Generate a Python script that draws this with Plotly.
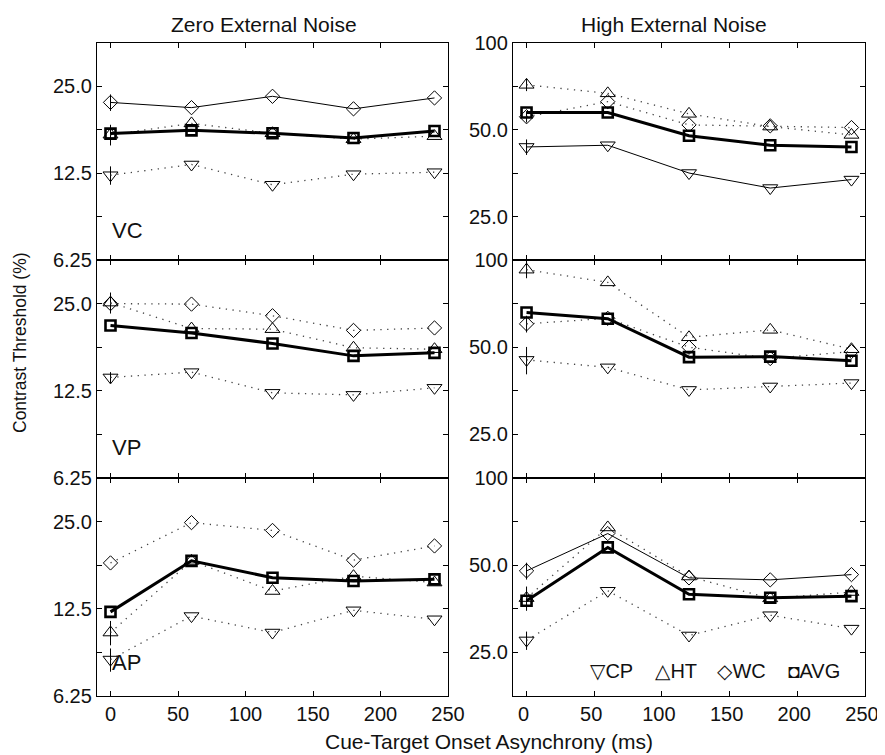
import math
import plotly.graph_objects as go

# ---------------- data ----------------
soa = [0, 60, 120, 180, 240]
x_tick_vals = [0, 50, 100, 150, 200, 250]
x_tick_text = ["0", "50", "100", "150", "200", "250"]

zero_tick_vals = [6.25, 12.5, 25.0]
zero_tick_text = ["6.25", "12.5", "25.0"]
high_tick_vals = [25.0, 50.0, 100.0]
high_tick_text = ["25.0", "50.0", "100"]

column_titles = ["Zero External Noise", "High External Noise"]
row_labels = ["VC", "VP", "AP"]
series_names = ["CP", "HT", "WC", "AVG"]

# Zero external noise
zero_vc_cp = [12.3, 13.4, 11.4, 12.4, 12.6]
zero_vc_ht = [17.0, 18.6, 17.2, 16.4, 16.8]
zero_vc_wc = [22.0, 21.1, 23.1, 20.9, 22.8]
zero_vc_avg = [17.15, 17.6, 17.2, 16.55, 17.5]
zero_vc_err0 = [0.9, 1.4, 1.45]

zero_vp_cp = [13.9, 14.5, 12.3, 12.1, 12.8]
zero_vp_ht = [25.2, 20.5, 20.4, 17.6, 17.4]
zero_vp_wc = [25.0, 24.9, 22.7, 20.2, 20.6]
zero_vp_avg = [21.0, 19.8, 18.2, 16.5, 16.9]
zero_vp_err0 = [0.6, 2.1, 0.0]

zero_ap_cp = [8.35, 11.8, 10.35, 12.35, 11.5]
zero_ap_ht = [10.35, 18.3, 14.4, 16.2, 15.4]
zero_ap_wc = [18.0, 24.8, 23.3, 18.4, 20.6]
zero_ap_avg = [12.2, 18.3, 16.0, 15.6, 15.8]
zero_ap_err0 = [0.77, 1.0, 0.0]

# High external noise
high_vc_cp = [43.6, 44.2, 35.4, 31.4, 33.6]
high_vc_ht = [71.6, 66.9, 56.8, 51.3, 48.0]
high_vc_wc = [55.5, 62.6, 52.0, 51.6, 50.9]
high_vc_avg = [57.4, 57.4, 47.7, 44.2, 43.6]
high_vc_err0 = [2.7, 3.5, 2.5]

high_vp_cp = [45.2, 42.6, 35.6, 36.6, 37.6]
high_vp_ht = [92.6, 83.7, 54.1, 57.4, 49.2]
high_vp_wc = [60.2, 62.9, 50.0, 45.7, 48.3]
high_vp_avg = [65.9, 62.7, 46.2, 46.4, 44.9]
high_vp_err0 = [4.9, 6.1, 4.0]

high_ap_cp = [27.5, 40.8, 28.6, 33.6, 30.2]
high_ap_ht = [38.5, 67.5, 45.7, 38.4, 40.4]
high_ap_wc = [47.8, 64.3, 45.2, 44.5, 46.4]
high_ap_avg = [37.7, 57.6, 39.7, 38.6, 39.1]
high_ap_err0 = [2.0, 3.7, 3.2]

# ---------------- layout geometry ----------------
# The page body has an 8px margin, so the figure is sized to fill the rest
# of the 885x755 window and reference pixel positions are shifted by OFF.
OFF = 8
W, H = 885 - OFF, 755 - OFF
FONT = "Liberation Sans, Arial, Helvetica, DejaVu Sans, sans-serif"


def px(x):
    return (x - OFF) / W


def py(y):
    return 1 - (y - OFF) / H


col_px = [(97, 448), (513, 865)]
row_px = [(43, 260), (260, 478), (478, 696)]

panels = [
    (0, 0, zero_vc_cp, zero_vc_ht, zero_vc_wc, zero_vc_avg, zero_vc_err0, "WC"),
    (0, 1, high_vc_cp, high_vc_ht, high_vc_wc, high_vc_avg, high_vc_err0, "CP"),
    (1, 0, zero_vp_cp, zero_vp_ht, zero_vp_wc, zero_vp_avg, zero_vp_err0, None),
    (1, 1, high_vp_cp, high_vp_ht, high_vp_wc, high_vp_avg, high_vp_err0, None),
    (2, 0, zero_ap_cp, zero_ap_ht, zero_ap_wc, zero_ap_avg, zero_ap_err0, None),
    (2, 1, high_ap_cp, high_ap_ht, high_ap_wc, high_ap_avg, high_ap_err0, "WC"),
]

symbols = {"CP": "triangle-down-open", "HT": "triangle-up-open", "WC": "diamond-open"}
sizes = {"CP": 13, "HT": 13, "WC": 11}

fig = go.Figure()
layout_axes = {}

for idx, (r, c, cp, ht, wc, avg, err0, solid) in enumerate(panels):
    n = idx + 1
    xa = "x" if n == 1 else f"x{n}"
    ya = "y" if n == 1 else f"y{n}"
    subj = {"CP": cp, "HT": ht, "WC": wc}
    order = [s for s in ["CP", "HT", "WC"] if s != solid] + ([solid] if solid else [])
    for s in order:
        e = err0[["CP", "HT", "WC"].index(s)]
        errs = [e] + [0] * (len(soa) - 1)
        is_solid = (s == solid)
        fig.add_trace(go.Scatter(
            x=soa, y=subj[s], xaxis=xa, yaxis=ya, mode="lines+markers",
            name=s, showlegend=False,
            line=dict(color="black" if is_solid else "#444",
                      width=1 if is_solid else 1.3,
                      dash="solid" if is_solid else "1.3px,5.5px"),
            marker=dict(symbol=symbols[s], size=sizes[s], color="black",
                        line=dict(width=1, color="black")),
            error_y=dict(type="data", array=errs, symmetric=True, width=0,
                         thickness=1, color="black", visible=True),
            cliponaxis=False,
        ))
    fig.add_trace(go.Scatter(
        x=soa, y=avg, xaxis=xa, yaxis=ya, mode="lines+markers",
        name="AVG", showlegend=False,
        line=dict(color="black", width=3),
        marker=dict(symbol="square-open", size=10, color="black",
                    line=dict(width=2.6, color="black")),
        cliponaxis=False,
    ))

    x0, x1 = col_px[c]
    yt, yb = row_px[r]
    if c == 0:
        lo = 6.25
        tv, tt = [], []
        for i, v in enumerate(zero_tick_vals):
            tv.append(v); tt.append(zero_tick_text[i])
            tv.append(v * math.sqrt(2)); tt.append("")
        yr = [math.log10(lo), math.log10(lo * 2 ** 2.5)]
    else:
        tv, tt = [], []
        for i, v in enumerate(high_tick_vals):
            tv.append(v / math.sqrt(2)); tt.append("")
            tv.append(v); tt.append(high_tick_text[i])
        yr = [math.log10(100 / 2 ** 2.5), 2.0]

    axis_common = dict(showline=True, linecolor="black", linewidth=1.3,
                       mirror="ticks", ticks="inside", ticklen=5, tickwidth=1,
                       tickcolor="black", showgrid=False, zeroline=False,
                       automargin=False,
                       tickfont=dict(family=FONT, size=20, color="#111"))
    layout_axes["xaxis" if n == 1 else f"xaxis{n}"] = dict(
        axis_common, domain=[px(x0), px(x1)], range=[-10, 250],
        tickmode="array", tickvals=x_tick_vals, ticktext=x_tick_text,
        ticklabelshift=(-3 if c == 1 else 0),
        showticklabels=(r == 2), anchor=ya)
    layout_axes["yaxis" if n == 1 else f"yaxis{n}"] = dict(
        axis_common, domain=[py(yb), py(yt)], type="log", range=yr,
        tickmode="array", tickvals=tv, ticktext=tt, anchor=xa)

annotations = []
for c, t in enumerate(column_titles):
    cx = [264, 673.5][c]
    annotations.append(dict(text=t, x=px(cx), y=py(24), xref="paper", yref="paper",
                            showarrow=False, xanchor="center", yanchor="middle",
                            font=dict(family=FONT, size=21, color="#111")))
for r, t in enumerate(row_labels):
    cy = [231, 447, 662][r]
    annotations.append(dict(text=t, x=px(110), y=py(cy), xref="paper", yref="paper",
                            showarrow=False, xanchor="left", yanchor="middle",
                            font=dict(family=FONT, size=22, color="#111")))
annotations.append(dict(text="Contrast Threshold (%)", x=px(20), y=py(343),
                        xref="paper", yref="paper", showarrow=False, textangle=-90,
                        xanchor="center", yanchor="middle",
                        font=dict(family=FONT, size=17.5, color="#111")))
annotations.append(dict(text="Cue-Target Onset Asynchrony (ms)", x=px(489.5), y=py(741),
                        xref="paper", yref="paper", showarrow=False,
                        xanchor="center", yanchor="middle",
                        font=dict(family=FONT, size=21, color="#111")))
legend_glyphs = ["\u25BD", "\u25B3", "\u25C7", "<span style='font-size:19px'>\u25D8</span>"]
legend_x = [588, 653, 715, 786]
for g, nm, lx in zip(legend_glyphs, series_names, legend_x):
    annotations.append(dict(text=g + nm, x=px(lx), y=py(670.5),
                            xref="paper", yref="paper", showarrow=False,
                            xanchor="left", yanchor="middle",
                            font=dict(family=FONT, size=20, color="#111")))

fig.update_layout(
    width=W, height=H,
    margin=dict(l=0, r=0, t=0, b=0, pad=0, autoexpand=False),
    paper_bgcolor="white", plot_bgcolor="white",
    showlegend=False,
    annotations=annotations,
    **layout_axes,
)

fig.write_html("out.html")
